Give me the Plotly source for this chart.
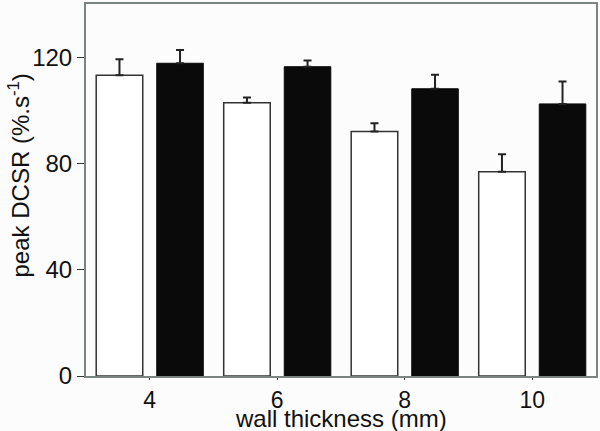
import plotly.graph_objects as go

# Data
wall_thickness = [4, 6, 8, 10]
white_values = [113.2, 102.8, 92.0, 76.9]
white_errors = [6.0, 2.0, 3.1, 6.6]
black_values = [117.7, 116.4, 108.1, 102.4]
black_errors = [5.0, 2.3, 5.3, 8.4]

fig = go.Figure()

fig.add_trace(go.Bar(
    x=wall_thickness, y=white_values,
    marker=dict(color='white', line=dict(color='#333333', width=1.5)),
    error_y=dict(type='data', array=white_errors, arrayminus=[0]*4,
                 symmetric=False, color='#222222', thickness=2, width=4),
    width=0.73, offset=-0.84,
))
fig.add_trace(go.Bar(
    x=wall_thickness, y=black_values,
    marker=dict(color='#0a0a0a', line=dict(color='#0a0a0a', width=1)),
    error_y=dict(type='data', array=black_errors, arrayminus=[0]*4,
                 symmetric=False, color='#222222', thickness=2, width=4),
    width=0.73, offset=0.11,
))

font = dict(family='Liberation Sans, Arial, sans-serif', color='#111111')

fig.update_layout(
    width=600, height=431,
    margin=dict(l=86, r=2, t=3, b=55),
    paper_bgcolor='#fcfcfc', plot_bgcolor='#fcfcfc',
    showlegend=False,
    font=dict(size=24, **font),
    xaxis=dict(
        range=[3, 11], tickvals=wall_thickness, ticks='outside', ticklen=2,
        tickcolor='#333333', tickfont=dict(size=23),
        showgrid=False, zeroline=False,
        showline=True, linecolor='#7a8580', linewidth=2, mirror=True,
    ),
    yaxis=dict(
        range=[0, 140], tickvals=[0, 40, 80, 120], ticks='outside', ticklen=7,
        tickcolor='#333333', tickfont=dict(size=24),
        showgrid=False, zeroline=False,
        showline=True, linecolor='#7a8580', linewidth=2, mirror=True,
    ),
)

# axis titles placed as annotations for tighter control
fig.add_annotation(text='wall thickness (mm)', xref='paper', yref='paper',
                   x=0.5, y=0, yshift=-42, xanchor='center', yanchor='middle',
                   showarrow=False, font=dict(size=24))
fig.add_annotation(text='peak DCSR (%.s<sup>-1</sup>)', xref='paper', yref='paper',
                   x=0, y=0.539, xshift=-67, xanchor='center', yanchor='middle',
                   textangle=-90, showarrow=False, font=dict(size=24))

fig.write_html("out.html", post_script="document.body.style.margin='0';",
               config={'displayModeBar': False})
